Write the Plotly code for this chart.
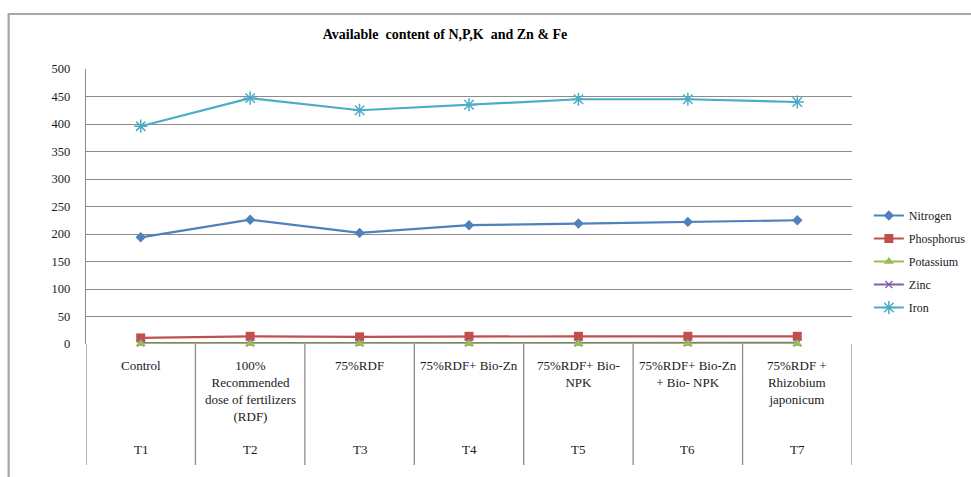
import plotly.graph_objects as go

# Treatment codes and their descriptions
codes = ["T1", "T2", "T3", "T4", "T5", "T6", "T7"]
treatments = [
    "Control",
    "100%<br>Recommended<br>dose of fertilizers<br>(RDF)",
    "75%RDF",
    "75%RDF+ Bio-Zn",
    "75%RDF+ Bio-<br>NPK",
    "75%RDF+ Bio-Zn<br>+ Bio- NPK",
    "75%RDF +<br>Rhizobium<br>japonicum",
]

# Available nutrient content per treatment
nitrogen = [194, 226, 202, 216, 219, 222, 225]
phosphorus = [11, 14, 13, 14, 14, 14, 14]
potassium = [0.4, 0.5, 0.4, 0.5, 0.5, 0.5, 0.5]
zinc = [1.6, 1.8, 1.7, 1.8, 1.8, 1.9, 1.9]
iron = [396, 447, 425, 435, 445, 445, 440]

y_ticks = [0, 50, 100, 150, 200, 250, 300, 350, 400, 450, 500]

# name, values, colour, marker symbol, marker size, marker outline width, legend rank
series = [
    ("Nitrogen", nitrogen, "#4f81bd", "diamond", 8, 0, 1),
    ("Phosphorus", phosphorus, "#c0504d", "square", 9, 0, 2),
    ("Zinc", zinc, "#8064a2", "x-thin-open", 7, 1.3, 4),
    ("Potassium", potassium, "#9bbb59", "triangle-up", 9, 0, 3),
    ("Iron", iron, "#4bacc6", "asterisk-open", 11, 1.5, 5),
]

idx = list(range(len(codes)))
fig = go.Figure()
for name, vals, color, symbol, size, lw, rank in series:
    marker = dict(symbol=symbol, size=size, color=color)
    if lw:
        marker["line"] = dict(color=color, width=lw)
    fig.add_trace(go.Scatter(
        x=idx, y=vals, name=name, mode="lines+markers", legendgroup=name,
        legendrank=rank, line=dict(color=color, width=2.2), marker=marker,
        cliponaxis=False,
    ))

serif = "Liberation Serif"
ink = "#1a1a1a"

# Category labels below the axis, two rows
for i, (code, label) in enumerate(zip(codes, treatments)):
    fig.add_annotation(x=i, y=0, xref="x", yref="paper", yanchor="top",
                       yshift=-12, text=label, showarrow=False,
                       font=dict(family=serif, size=13, color=ink))
    fig.add_annotation(x=i, y=0, xref="x", yref="paper", yanchor="top",
                       yshift=-96, text=code, showarrow=False,
                       font=dict(family=serif, size=13, color=ink))

# Vertical dividers between categories, extending through the label area
for k in range(len(codes) + 1):
    fig.add_shape(type="line", xref="x", yref="paper",
                  x0=k - 0.5, x1=k - 0.5, y0=0, y1=-0.44,
                  line=dict(color="#8c8c8c", width=1.3))

# Outer chart frame
fig.add_shape(type="rect", xref="paper", yref="paper",
              x0=-0.101, x1=1.2, y0=-0.5, y1=1.2,
              line=dict(color="#a6a6a6", width=2.2))

fig.update_layout(
    width=971, height=477,
    margin=dict(l=86, r=119, t=69, b=133, autoexpand=False),
    paper_bgcolor="white", plot_bgcolor="white",
    font=dict(family=serif, color=ink),
    title=dict(text="<b>Available  content of N,P,K  and Zn & Fe</b>",
               x=445 / 971, xanchor="center",
               y=1 - 34 / 477, yanchor="middle",
               font=dict(family=serif, size=14, color="#000000")),
    showlegend=True,
    legend=dict(x=1.022, xanchor="left", y=0.30, yanchor="middle",
                font=dict(family=serif, size=12, color=ink),
                bgcolor="rgba(0,0,0,0)", tracegroupgap=4, itemwidth=30),
    xaxis=dict(range=[-0.5, len(codes) - 0.5], showticklabels=False,
               showgrid=False, zeroline=False, showline=False, fixedrange=True),
    yaxis=dict(range=[0, 500], tickvals=y_ticks, showgrid=True,
               gridcolor="#8c8c8c", gridwidth=1.3, zeroline=False,
               showline=True, linecolor="#8c8c8c", linewidth=1.3,
               ticks="", ticklabelstandoff=12,
               tickfont=dict(family=serif, size=12.5, color=ink)),
)

fig.write_html("out.html")
